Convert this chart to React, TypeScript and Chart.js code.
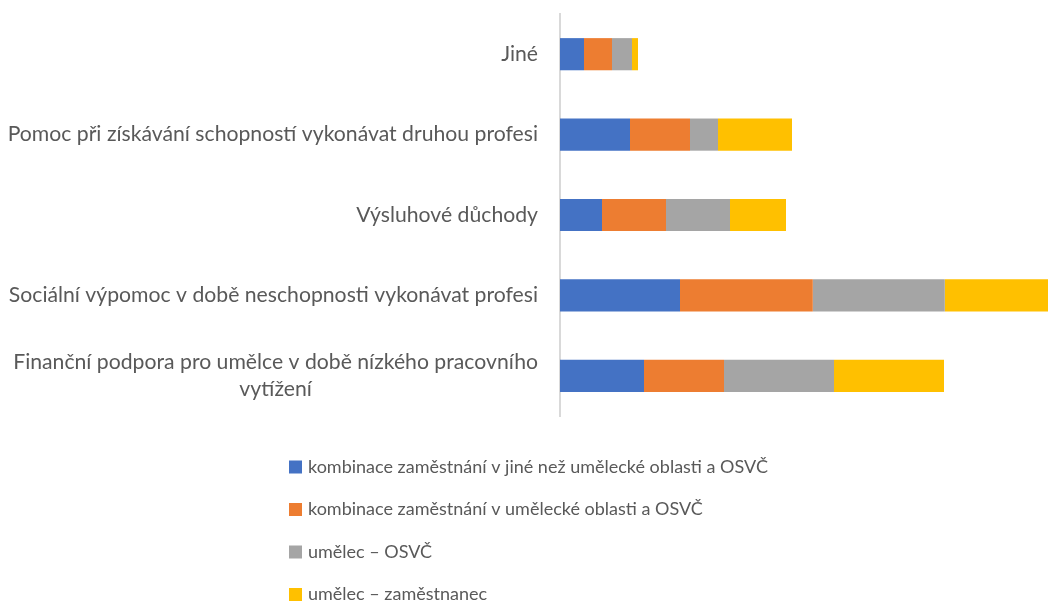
import React, { useEffect, useRef } from "react";
import { Chart, registerables } from "chart.js";

Chart.register(...registerables);

const categories: (string | string[])[] = [
  "Jiné",
  "Pomoc při získávání schopností vykonávat druhou profesi",
  "Výsluhové důchody",
  "Sociální výpomoc v době neschopnosti vykonávat profesi",
  ["Finanční podpora pro umělce v době nízkého pracovního", "vytížení"],
];

const seriesNames = [
  "kombinace zaměstnání v jiné než umělecké oblasti a OSVČ",
  "kombinace zaměstnání v umělecké oblasti a OSVČ",
  "umělec – OSVČ",
  "umělec – zaměstnanec",
];

const seriesColors = ["#4472C4", "#ED7D31", "#A5A5A5", "#FFC000"];

const jineNezUmelecke = [6, 17.5, 10.5, 30, 21];
const umeleckeOblasti = [7, 15, 16, 33.2, 20];
const umelecOsvc = [5, 7, 16, 33, 27.5];
const umelecZamestnanec = [1.5, 18.5, 14, 30, 27.5];

const xMax = 122;

const FONT = "Lato, 'Open Sans', sans-serif";
const TEXT_COLOR = "#595959";

const labelsPlugin = {
  id: "catLabels",
  afterDraw(chart: any) {
    const { ctx, chartArea, scales } = chart;
    const y = scales.y;
    ctx.save();
    ctx.fillStyle = TEXT_COLOR;
    ctx.font = `21.2px ${FONT}`;
    ctx.textBaseline = "middle";
    const rightX = chartArea.left - 22;
    const lineH = 27;
    (chart.data.labels as (string | string[])[]).forEach((lab, i) => {
      const cy = y.getPixelForValue(i);
      const lines = Array.isArray(lab) ? lab : [lab];
      if (lines.length === 1) {
        ctx.textAlign = "right";
        ctx.fillText(lines[0], rightX, cy);
      } else {
        const w = Math.max(...lines.map((l) => ctx.measureText(l).width));
        const cx = rightX - w / 2;
        ctx.textAlign = "center";
        const startY = cy - ((lines.length - 1) * lineH) / 2;
        lines.forEach((l, k) => ctx.fillText(l, cx, startY + k * lineH));
      }
    });
    ctx.restore();
  },
};

const legendPlugin = {
  id: "vertLegend",
  afterDraw(chart: any) {
    const { ctx } = chart;
    ctx.save();
    ctx.font = `18px ${FONT}`;
    ctx.textBaseline = "middle";
    ctx.textAlign = "left";
    const boxX = 289;
    const box = 13;
    const startY = 467;
    const step = 42.5;
    chart.data.datasets.forEach((ds: any, i: number) => {
      const cy = startY + i * step;
      ctx.fillStyle = ds.backgroundColor;
      ctx.fillRect(boxX, cy - box / 2, box, box);
      ctx.fillStyle = TEXT_COLOR;
      ctx.fillText(ds.label, boxX + 19, cy);
    });
    ctx.restore();
  },
};

export default function App() {
  const ref = useRef<HTMLCanvasElement>(null);
  useEffect(() => {
    if (!ref.current) return;
    const values = [jineNezUmelecke, umeleckeOblasti, umelecOsvc, umelecZamestnanec];
    const chart = new Chart(ref.current, {
      type: "bar",
      data: {
        labels: categories as any,
        datasets: seriesNames.map((name, i) => ({
          label: name,
          data: values[i],
          backgroundColor: seriesColors[i],
          borderWidth: 0,
          categoryPercentage: 0.8,
          barPercentage: 0.5,
        })),
      },
      options: {
        indexAxis: "y",
        responsive: true,
        maintainAspectRatio: false,
        animation: false,
        layout: { padding: { left: 560, top: 14, bottom: 185, right: 0 } },
        plugins: {
          legend: { display: false },
          tooltip: { enabled: false },
          title: { display: false },
        },
        scales: {
          x: {
            stacked: true,
            display: false,
            min: 0,
            max: xMax,
          },
          y: {
            stacked: true,
            ticks: { display: false },
            grid: { display: false },
            border: { display: true, color: "#D9D9D9", width: 2 },
            afterFit: (s: any) => {
              s.width = 0;
            },
          },
        },
      },
      plugins: [labelsPlugin, legendPlugin],
    });
    return () => chart.destroy();
  }, []);
  return (
    <div style={{ position: "fixed", left: 0, top: 0, width: 1048, height: 601, background: "#fff" }}>
      <canvas ref={ref} />
    </div>
  );
}
